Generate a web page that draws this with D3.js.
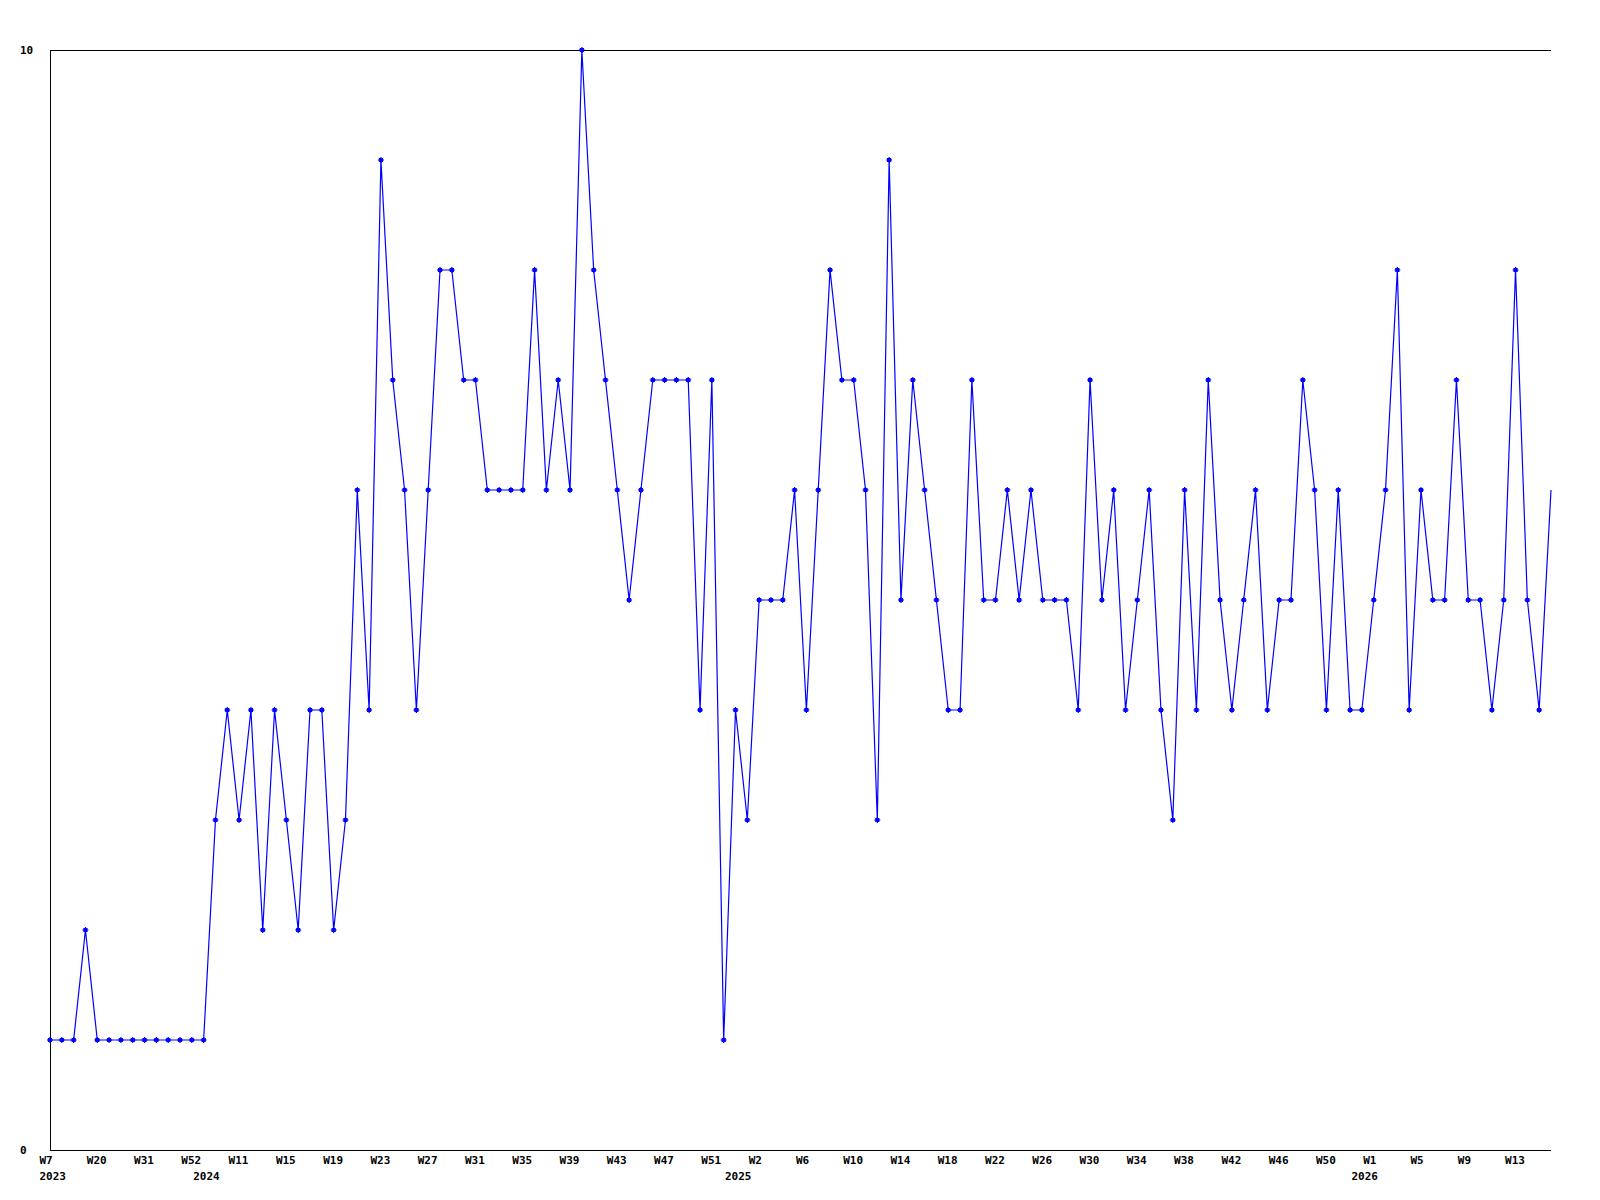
<!DOCTYPE html>
<html>
<head>
<meta charset="utf-8">
<script src="https://cdn.jsdelivr.net/npm/d3@7"></script>
<style>
  html, body { margin: 0; padding: 0; background: #fff; }
  svg { display: block; }
  text { font-family: "DejaVu Sans Mono", "Liberation Mono", monospace; font-size: 11px; font-weight: bold; fill: #000; }
</style>
</head>
<body>
<svg id="chart" width="1600" height="1200"></svg>
<script>
// Weekly values (one per category, left to right)
const values = [
  1,1,1,2,1,1,1,1,1,1,1,1,1,1,3,4,3,4,2,4,
  3,2,4,4,2,3,6,4,9,7,6,4,6,8,8,7,7,6,6,6,
  6,8,6,7,6,10,8,7,6,5,6,7,7,7,7,4,7,1,4,3,
  5,5,5,6,4,6,8,7,7,6,3,9,5,7,6,5,4,4,7,5,
  5,6,5,6,5,5,5,4,7,5,6,4,5,6,4,3,6,4,7,5,
  4,5,6,4,5,5,7,6,4,6,4,4,5,6,8,4,6,5,5,7,
  5,5,4,5,8,5,4,6
];
// Week tick labels: category index and text
const weekTickIndex = [0,4,8,12,16,20,24,28,32,36,40,44,48,52,56,60,64,68,72,76,80,84,88,92,96,100,104,108,112,116,120,124];
const weekTickLabels = ["W7","W20","W31","W52","W11","W15","W19","W23","W27","W31","W35","W39","W43","W47","W51","W2","W6","W10","W14","W18","W22","W26","W30","W34","W38","W42","W46","W50","W1","W5","W9","W13"];
// Year labels: category index and text
const yearTickIndex = [0,13,58,111];
const yearTickLabels = ["2023","2024","2025","2026"];
// Y axis labels
const yTickValues = [0,10];

(function () {
const svg = d3.select("#chart");
const mLeft = 50, mRight = 1551, mTop = 50, mBottom = 1150;

const x = d3.scaleLinear().domain([0, values.length - 1]).range([mLeft, mRight]);
const y = d3.scaleLinear().domain([0, 10]).range([mBottom, mTop]);

// frame lines: left axis, bottom axis, top border
svg.append("line").attr("x1", mLeft + 0.5).attr("x2", mLeft + 0.5).attr("y1", mTop).attr("y2", mBottom + 1)
  .attr("stroke", "#000").attr("stroke-width", 1).attr("shape-rendering", "crispEdges");
svg.append("line").attr("x1", mLeft).attr("x2", mRight).attr("y1", y(0) + 0.5).attr("y2", y(0) + 0.5)
  .attr("stroke", "#000").attr("stroke-width", 1).attr("shape-rendering", "crispEdges");
svg.append("line").attr("x1", mLeft).attr("x2", mRight).attr("y1", y(10) + 0.5).attr("y2", y(10) + 0.5)
  .attr("stroke", "#000").attr("stroke-width", 1).attr("shape-rendering", "crispEdges");

// Y labels
svg.append("g").selectAll("text").data(yTickValues).join("text")
  .attr("x", 20).attr("y", d => y(d)).attr("dy", "0.35em")
  .attr("text-anchor", "start")
  .text(d => d);

// X week labels via axis
const xAxis = d3.axisBottom(x)
  .tickValues(weekTickIndex)
  .tickSize(0)
  .tickFormat((d, i) => weekTickLabels[i]);
const gx = svg.append("g").attr("transform", `translate(0,${mBottom})`).call(xAxis);
gx.select(".domain").remove();
gx.selectAll("text")
  .attr("y", 0).attr("dy", "1.3em")
  .attr("text-anchor", "start").attr("dx", -11)
  .style("font-family", "'DejaVu Sans Mono', monospace").style("font-size", "11px").style("font-weight", "bold").attr("fill", "#000");

// Year labels via second axis
const yearAxis = d3.axisBottom(x)
  .tickValues(yearTickIndex)
  .tickSize(0)
  .tickFormat((d, i) => yearTickLabels[i]);
const gy = svg.append("g").attr("transform", `translate(0,${mBottom})`).call(yearAxis);
gy.select(".domain").remove();
gy.selectAll("text")
  .attr("y", 0).attr("dy", "2.75em")
  .attr("text-anchor", "start").attr("dx", -11)
  .style("font-family", "'DejaVu Sans Mono', monospace").style("font-size", "11px").style("font-weight", "bold").attr("fill", "#000");

// Line
const line = d3.line().x((d, i) => x(i)).y(d => y(d));
svg.append("path").datum(values)
  .attr("d", line)
  .attr("fill", "none")
  .attr("stroke", "#0000ff")
  .attr("stroke-width", 1.2);

// Markers (all but last point)
const markerPath = "M-3,0H3M0,-3V3M-1.5,-1.5H1.5V1.5H-1.5Z";
svg.append("g").selectAll("path").data(values.slice(0, values.length - 1)).join("path")
  .attr("transform", (d, i) => `translate(${x(i)},${y(d)})`)
  .attr("d", markerPath)
  .attr("fill", "#0000ff")
  .attr("stroke", "#0000ff")
  .attr("stroke-width", 1.2);
})();
</script>
</body>
</html>
